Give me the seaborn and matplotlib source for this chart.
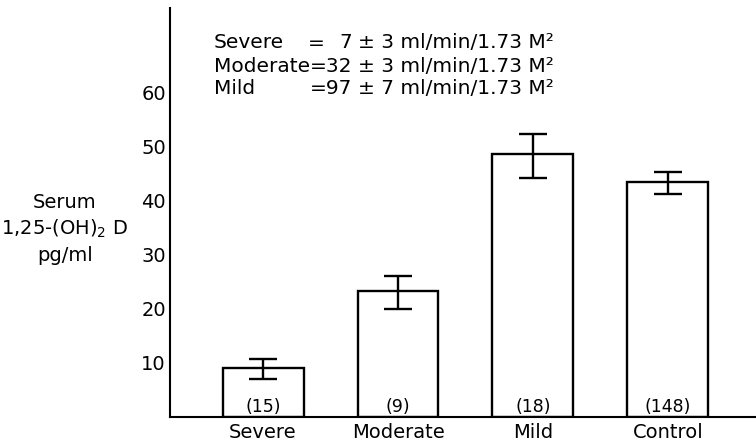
import numpy as np
import pandas as pd
import matplotlib
matplotlib.use("Agg")
import matplotlib.pyplot as plt
import seaborn as sns

# values
groups = ["Severe", "Moderate", "Mild", "Control"]
means = [9.0, 23.3, 48.6, 43.4]
err_low = [7.0, 20.0, 44.2, 41.2]
err_high = [10.7, 26.1, 52.4, 45.3]
counts = ["(15)", "(9)", "(18)", "(148)"]

gfr_names = ["Severe", "Moderate", "Mild"]
gfr_values = ["7", "=32", "=97"]
gfr_sd = ["3", "3", "7"]

sns.set_style("white")
plt.rcParams["font.family"] = ["DejaVu Sans"]
plt.rcParams.update({"text.color": "black", "axes.labelcolor": "black",
                     "xtick.color": "black", "ytick.color": "black"})

df = pd.DataFrame({"group": groups, "value": means})

W, H = 756, 445
fig = plt.figure(figsize=(W / 100, H / 100), dpi=100)
ax = fig.add_axes([170 / W, (H - 417) / H, 1 - 170 / W, (417 - 8) / H])

sns.barplot(data=df, x="group", y="value", order=groups, width=0.6,
            color="white", edgecolor="black", linewidth=1.7, ax=ax)

x = np.arange(len(groups))
m = np.array(means)
yerr = [m - np.array(err_low), np.array(err_high) - m]
ax.errorbar(x, m, yerr=yerr, fmt="none", ecolor="black",
            elinewidth=1.7, capsize=10, capthick=1.7)

for i, c in enumerate(counts):
    ax.text(i, 1.8, c, ha="center", va="center", fontsize=12.5)

ax.set_xlim(-0.689, 3.652)
ax.set_ylim(0, 75.6)
ax.set_yticks([10, 20, 30, 40, 50, 60])
ax.tick_params(axis="y", direction="in", length=7, width=1.4, pad=3,
               labelsize=14)
ax.tick_params(axis="x", length=0, pad=4, labelsize=14)
ax.set_xlabel("")
ax.set_ylabel("")
for side in ["top", "right"]:
    ax.spines[side].set_visible(False)
for side in ["left", "bottom"]:
    ax.spines[side].set_linewidth(1.5)
    ax.spines[side].set_color("black")

# y label block to the left
fig.text(65 / W, 1 - 229 / H, "Serum\n1,25-(OH)$_2$ D\npg/ml",
         ha="center", va="center", fontsize=14, linespacing=1.35)

# GFR text at top
rows_y = [43, 66, 89]
for name, val, sd, yy in zip(gfr_names, gfr_values, gfr_sd, rows_y):
    fy = 1 - yy / H
    fig.text(214 / W, fy, name, ha="left", va="center", fontsize=14.5)
    if name == "Severe":
        fig.text(316 / W, fy, "=", ha="center", va="center", fontsize=14.5)
    fig.text(352 / W, fy, val, ha="right", va="center", fontsize=14.5)
    fig.text(358 / W, fy, "\u00b1 " + sd + " ml/min/1.73 M\u00b2",
             ha="left", va="center", fontsize=14.5)

fig.savefig("out.png", dpi=100)
